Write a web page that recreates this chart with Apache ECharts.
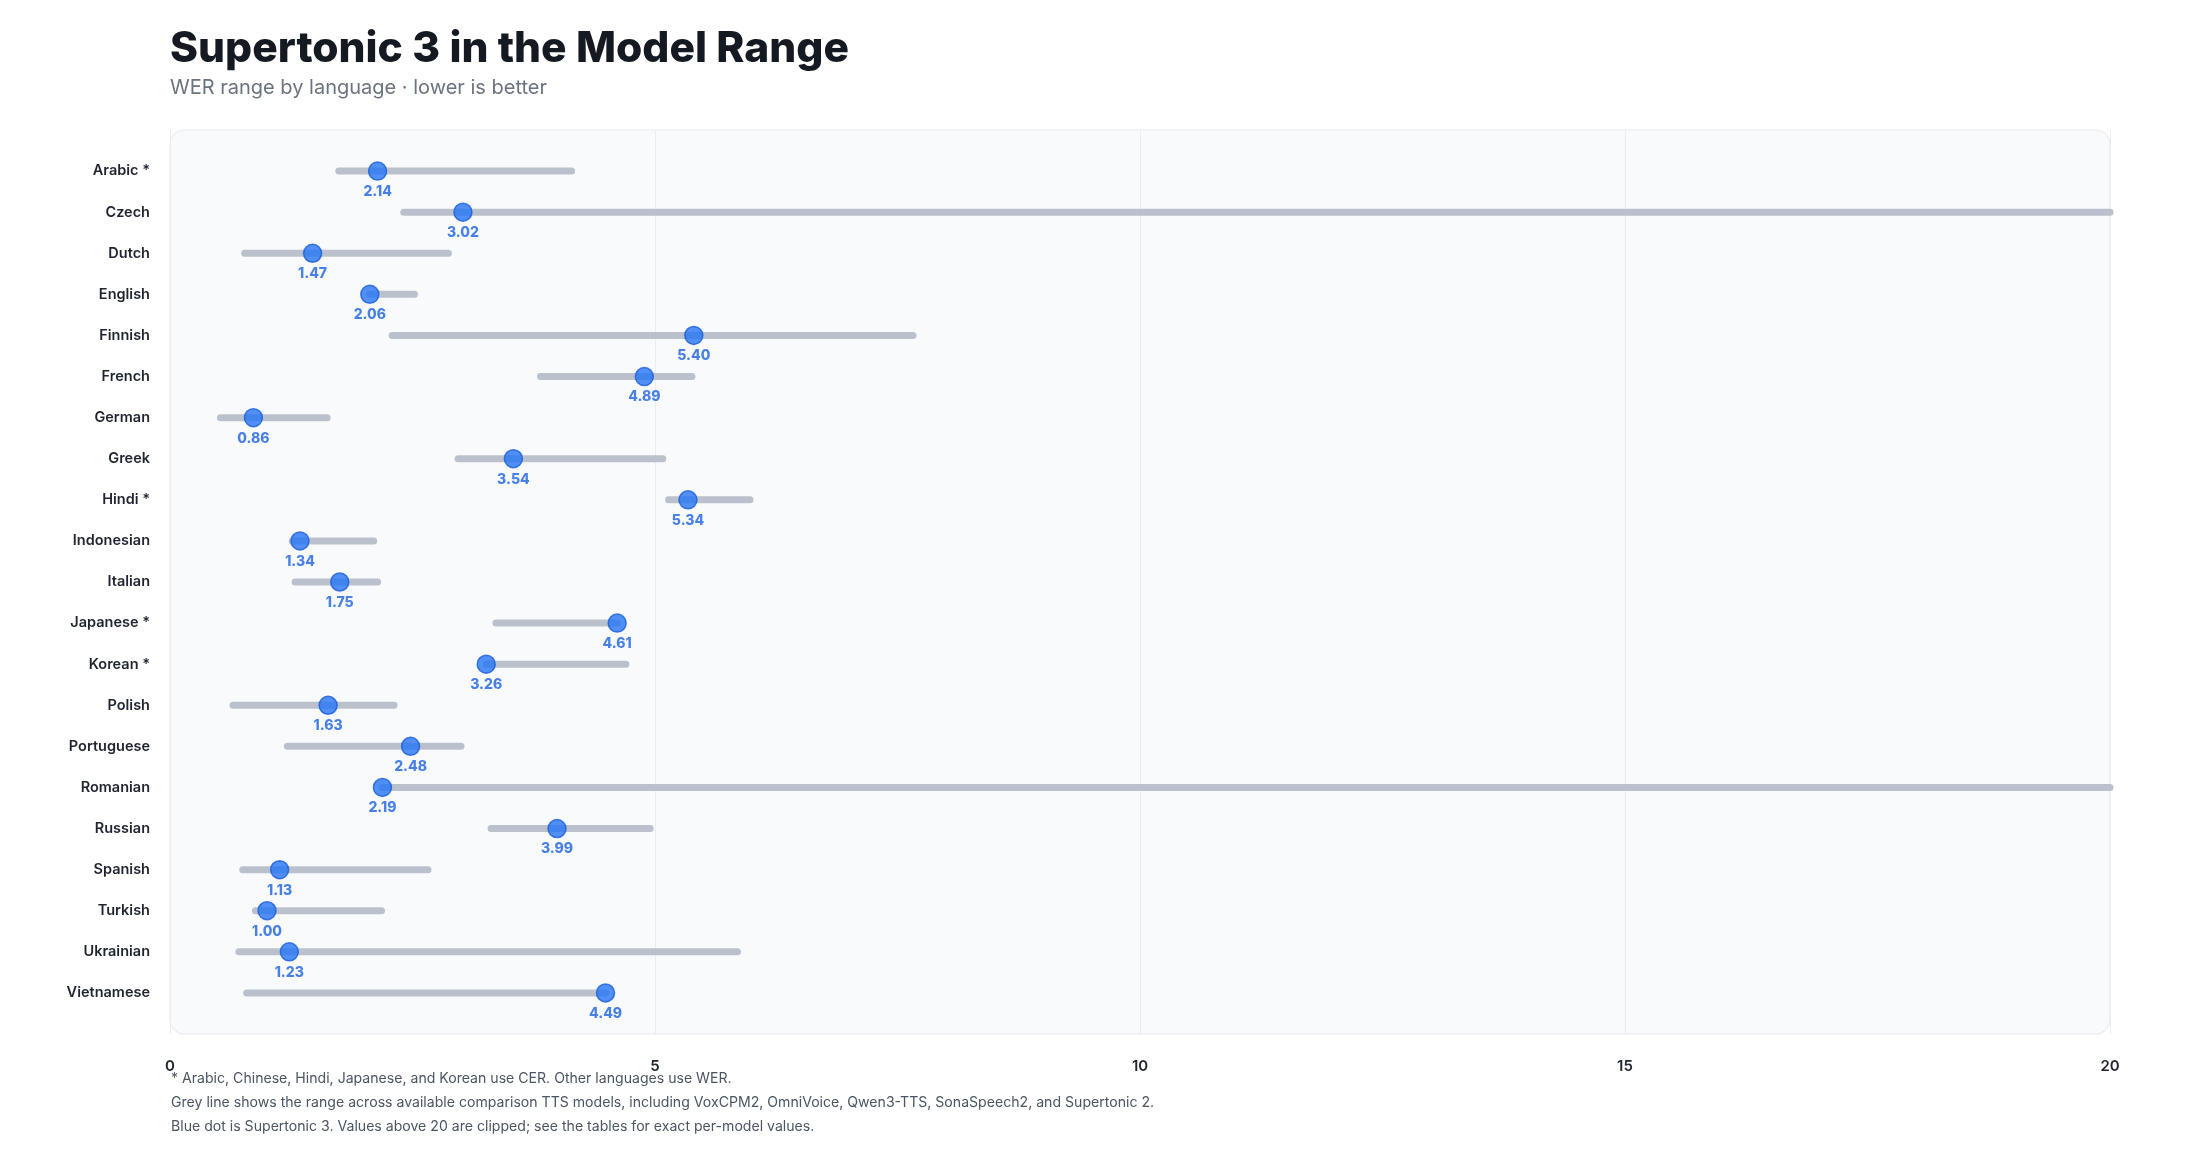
<!DOCTYPE html>
<html>
<head>
<meta charset="utf-8">
<style>
  html, body { margin: 0; padding: 0; background: #ffffff; }
  #chart { width: 2200px; height: 1160px; }
</style>
<script src="https://cdn.jsdelivr.net/npm/echarts@6/dist/echarts.min.js"></script>
</head>
<body>
<div id="chart"></div>
<script>
// ---- data ----
const categories = ['Arabic *', 'Czech', 'Dutch', 'English', 'Finnish', 'French', 'German', 'Greek', 'Hindi *', 'Indonesian', 'Italian', 'Japanese *', 'Korean *', 'Polish', 'Portuguese', 'Romanian', 'Russian', 'Spanish', 'Turkish', 'Ukrainian', 'Vietnamese'];
const supertonic3 = [2.14, 3.02, 1.47, 2.06, 5.40, 4.89, 0.86, 3.54, 5.34, 1.34, 1.75, 4.61, 3.26, 1.63, 2.48, 2.19, 3.99, 1.13, 1.00, 1.23, 4.49];
const rangeMin = [1.74, 2.41, 0.77, 2.06, 2.29, 3.82, 0.52, 2.97, 5.14, 1.26, 1.29, 3.36, 3.26, 0.65, 1.21, 2.19, 3.31, 0.75, 0.88, 0.71, 0.79];
const rangeMax = [4.14, 20, 2.87, 2.52, 7.66, 5.38, 1.62, 5.08, 5.98, 2.10, 2.14, 4.61, 4.70, 2.31, 3.00, 20, 4.95, 2.66, 2.18, 5.85, 4.49];
const xTickValues = [0, 5, 10, 15, 20];
const clipMax = 20;
const titleText = 'Supertonic 3 in the Model Range';
const subtitleText = 'WER range by language · lower is better';
const footnotes = [
  '* Arabic, Chinese, Hindi, Japanese, and Korean use CER. Other languages use WER.',
  'Grey line shows the range across available comparison TTS models, including VoxCPM2, OmniVoice, Qwen3-TTS, SonaSpeech2, and Supertonic 2.',
  'Blue dot is Supertonic 3. Values above 20 are clipped; see the tables for exact per-model values.'
];

// ---- layout ----
const FONT = 'Inter, "Noto Sans", sans-serif';
const G = { left: 170, right: 90, top: 130, bottom: 126 };
const W = 2200, H = 1160;

const rangeData = categories.map((c, i) => [Math.min(rangeMin[i], clipMax), Math.min(rangeMax[i], clipMax), i]);
const dotData = categories.map((c, i) => [supertonic3[i], i]);

const chart = echarts.init(document.getElementById('chart'), null, { renderer: 'canvas', width: W, height: H });

const graphics = [
  {
    type: 'rect', z: -10, silent: true,
    shape: { x: G.left, y: G.top, width: W - G.left - G.right, height: H - G.top - G.bottom, r: 14 },
    style: { fill: '#f9fafc', stroke: '#e6e9ee', lineWidth: 1 }
  },
  {
    type: 'text', silent: true,
    style: { x: 170, y: 49, text: titleText, fill: '#151922', font: '800 42.5px ' + FONT, textVerticalAlign: 'middle' }
  },
  {
    type: 'text', silent: true,
    style: { x: 170, y: 88, text: subtitleText, fill: '#6b7280', font: '400 20px ' + FONT, textVerticalAlign: 'middle' }
  }
];
footnotes.forEach((t, i) => {
  graphics.push({
    type: 'text', silent: true,
    style: { x: 171, y: 1079 + i * 24, text: t, fill: '#4b5563', font: '400 14.1px ' + FONT, textVerticalAlign: 'middle' }
  });
});

chart.setOption({
  backgroundColor: '#ffffff',
  animation: false,
  textStyle: { fontFamily: FONT },
  graphic: graphics,
  grid: { left: G.left, right: G.right, top: G.top, bottom: G.bottom, containLabel: false },
  xAxis: {
    type: 'value',
    min: xTickValues[0],
    max: xTickValues[xTickValues.length - 1],
    interval: xTickValues[1] - xTickValues[0],
    axisLine: { show: false },
    axisTick: { show: false },
    axisLabel: { margin: 25, fontSize: 15, fontWeight: 600, color: '#222831', fontFamily: FONT },
    splitLine: { show: true, lineStyle: { color: '#e9ecf0', width: 1 } }
  },
  yAxis: {
    type: 'value',
    inverse: true,
    min: -1,
    max: categories.length,
    interval: 1,
    axisLine: { show: false },
    axisTick: { show: false },
    splitLine: { show: false },
    axisLabel: {
      margin: 20, fontSize: 14.5, fontWeight: 600, color: '#1f2430', fontFamily: FONT,
      formatter: v => (categories[v] !== undefined ? categories[v] : '')
    }
  },
  series: [
    {
      type: 'custom',
      name: 'Model range',
      clip: false,
      data: rangeData,
      encode: { x: [0, 1], y: 2 },
      renderItem: (params, api) => {
        const p1 = api.coord([api.value(0), api.value(2)]);
        const p2 = api.coord([api.value(1), api.value(2)]);
        return {
          type: 'line',
          shape: { x1: p1[0], y1: p1[1], x2: p2[0], y2: p2[1] },
          style: { stroke: '#bac1cc', lineWidth: 7, lineCap: 'round' }
        };
      },
      z: 2
    },
    {
      type: 'scatter',
      name: 'Supertonic 3',
      data: dotData,
      symbol: 'circle',
      symbolSize: 18,
      itemStyle: { color: '#2474f5', borderColor: '#1a5cd8', borderWidth: 1.5 },
      label: {
        show: true,
        position: 'bottom',
        distance: 4,
        formatter: p => p.value[0].toFixed(2),
        fontSize: 14,
        fontWeight: 800,
        color: '#1c61de',
        fontFamily: FONT
      },
      z: 3
    }
  ]
});
</script>
</body>
</html>
